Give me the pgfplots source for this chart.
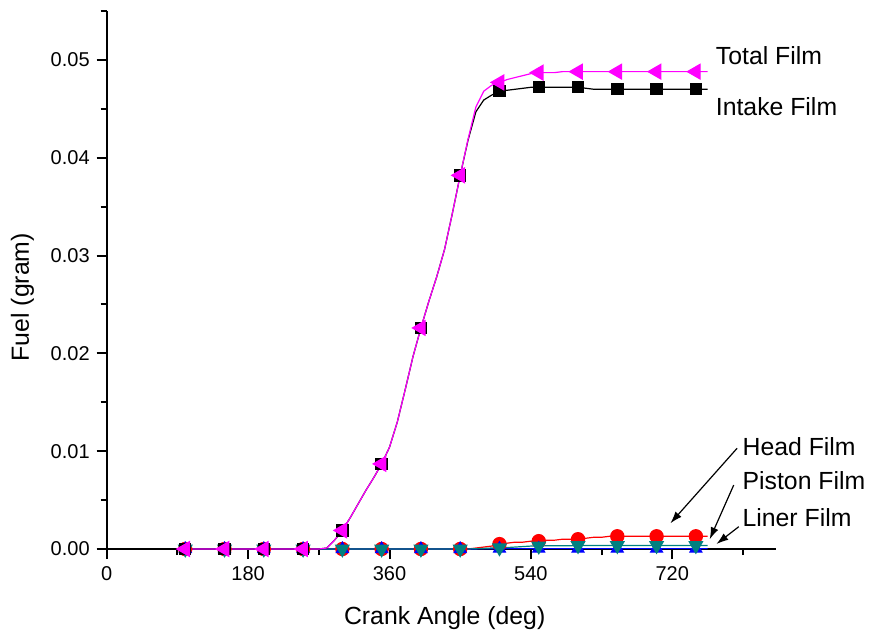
\documentclass[border=0pt]{standalone}
\usepackage{pgfplots}
\pgfplotsset{compat=1.18}
\usepackage{pgfplotstable}
\usepackage{fontspec}
\setmainfont{Liberation Sans}
\usetikzlibrary{arrows.meta}
\definecolor{teal2}{RGB}{0,128,128}
\definecolor{mag}{RGB}{255,0,255}

\pgfplotstableread{
x tot int head pis lin
100 0 0 0 0 0
110 0 0 0 0 0
120 0 0 0 0 0
130 0 0 0 0 0
140 0 0 0 0 0
150 0 0 0 0 0
160 0 0 0 0 0
170 0 0 0 0 0
180 0 0 0 0 0
190 0 0 0 0 0
200 0 0 0 0 0
210 0 0 0 0 0
220 0 0 0 0 0
230 0 0 0 0 0
240 0 0 0 0 0
250 0 0 0 0 0
260 0 0 0 0 0
270 0 0 0 0 0
280 0.0001 0.0001 0 0 0
290 0.0009 0.0009 0 0 0
300 0.0019 0.0019 0 0 0
310 0.0032 0.0032 0 0 0
320 0.0046 0.0046 0 0 0
330 0.0060 0.0060 0 0 0
340 0.0073 0.0073 0 0 0
350 0.0087 0.0087 0 0 0
360 0.0104 0.0104 0 0 0
370 0.0130 0.0130 0 0 0
380 0.0163 0.0163 0 0 0
390 0.0197 0.0197 0 0 0
400 0.0226 0.0226 0 0 0
410 0.0253 0.0253 0 0 0
420 0.0278 0.0278 0 0 0
430 0.0306 0.0306 0 0 0
440 0.0343 0.0343 0 0 0
450 0.0382 0.0382 0 0 0
460 0.0419 0.0418 0 0 0
470 0.0452 0.0447 0.0001 0.00001 0.00003
480 0.0468 0.0459 0.0002 0.00002 0.00006
490 0.0474 0.0464 0.0003 0.00003 0.00010
500 0.0477 0.0468 0.0005 0.00004 0.00012
510 0.0480 0.0469 0.0006 0.00004 0.00015
520 0.0482 0.0470 0.0007 0.00004 0.00020
530 0.0484 0.0471 0.0007 0.00004 0.00025
540 0.0486 0.0472 0.0008 0.00004 0.00030
550 0.0487 0.0472 0.0008 0.00004 0.00030
560 0.0487 0.0472 0.0009 0.00004 0.00033
570 0.0487 0.0472 0.0009 0.00004 0.00033
580 0.0488 0.0472 0.0010 0.00004 0.00034
590 0.0488 0.0472 0.0010 0.00004 0.00034
600 0.0488 0.0472 0.0010 0.00004 0.00035
610 0.0488 0.0471 0.0011 0.00004 0.00035
620 0.0488 0.0470 0.0012 0.00004 0.00035
630 0.0488 0.0470 0.0012 0.00004 0.00035
640 0.0488 0.0470 0.0013 0.00004 0.00035
650 0.0488 0.0470 0.0013 0.00004 0.00035
660 0.0488 0.0470 0.0013 0.00004 0.00035
670 0.0488 0.0470 0.0013 0.00004 0.00035
680 0.0488 0.0470 0.0013 0.00004 0.00035
690 0.0488 0.0470 0.0013 0.00004 0.00035
700 0.0488 0.0470 0.0013 0.00004 0.00035
710 0.0488 0.0470 0.0013 0.00004 0.00035
720 0.0488 0.0470 0.0013 0.00004 0.00035
730 0.0488 0.0470 0.0013 0.00004 0.00035
740 0.0488 0.0470 0.0013 0.00004 0.00035
750 0.0488 0.0470 0.0013 0.00004 0.00035
760 0.0488 0.0470 0.0013 0.00004 0.00035
765 0.0488 0.0470 0.0013 0.00004 0.00035
}\data

\begin{document}
\begin{tikzpicture}
\path[use as bounding box] (-53.35pt,-42pt) rectangle (382.65pt,274.5pt);
\begin{axis}[
  at={(0,0)}, anchor=south west,
  scale only axis, width=334.65pt, height=269pt,
  xmin=0, xmax=852, ymin=0, ymax=0.055,
  axis x line*=bottom, axis y line*=left,
  axis line style={line width=1pt, black},
  every tick/.style={line width=1pt, black},
  tick align=outside,
  major tick length=5pt, minor tick length=3pt,
  xtick={0,180,360,540,720},
  minor xtick={90,270,450,630,810},
  ytick={0,0.01,0.02,0.03,0.04,0.05},
  minor ytick={0.005,0.015,0.025,0.035,0.045,0.055},
  scaled y ticks=false,
  yticklabel style={/pgf/number format/.cd, fixed, fixed zerofill, precision=2},
  /pgf/number format/assume math mode=true,
  tick label style={font=\fontsize{10}{12}\selectfont},
  xlabel={Crank Angle (deg)},
  ylabel={Fuel (gram)},
  label style={font=\fontsize{12.4}{14}\selectfont},
  xlabel style={at={(axis description cs:0.505,-0.128)}, anchor=center},
  ylabel style={at={(axis description cs:-0.126,0.468)}, anchor=center},
  clip=false,
  every axis plot/.append style={line width=0.6pt, mark repeat=5, mark phase=1},
]
\addplot[red, mark=*, mark size=3.3pt, mark options={fill=red, draw=red}] table[x=x, y=head] {\data};
\addplot[blue, mark=triangle*, mark size=3.4pt, mark options={fill=blue, draw=blue}] table[x=x, y=pis] {\data};
\addplot[teal2, mark=triangle*, mark size=3.8pt, mark options={fill=teal2, draw=teal2, rotate=180}] table[x=x, y=lin] {\data};
\addplot[black, mark=square*, mark size=2.8pt, mark options={fill=black, draw=black}] table[x=x, y=int] {\data};
\addplot[mag, mark=triangle*, mark size=4.2pt, mark options={fill=mag, draw=mag, rotate=90}] table[x=x, y=tot] {\data};

\node[anchor=base west, inner sep=0pt, font=\fontsize{12.4}{14}\selectfont] at (axis cs:775,0.04949) {Total Film};
\node[anchor=base west, inner sep=0pt, font=\fontsize{12.4}{14}\selectfont] at (axis cs:775,0.04427) {Intake Film};
\node[anchor=base west, inner sep=0pt, font=\fontsize{12.4}{14}\selectfont] at (axis cs:809,0.00951) {Head Film};
\node[anchor=base west, inner sep=0pt, font=\fontsize{12.4}{14}\selectfont] at (axis cs:809,0.0061) {Piston Film};
\node[anchor=base west, inner sep=0pt, font=\fontsize{12.4}{14}\selectfont] at (axis cs:809,0.00228) {Liner Film};
\draw[line width=0.6pt, -{Latex[length=6pt,width=4pt]}] (axis cs:802.5,0.0103) -- (axis cs:717.6,0.00263);
\draw[line width=0.6pt, -{Latex[length=6pt,width=4pt]}] (axis cs:798.2,0.00654) -- (axis cs:767.6,0.00099);
\draw[line width=0.6pt, -{Latex[length=6pt,width=4pt]}] (axis cs:804.6,0.00228) -- (axis cs:776.2,0.00051);
\end{axis}
\end{tikzpicture}
\end{document}
